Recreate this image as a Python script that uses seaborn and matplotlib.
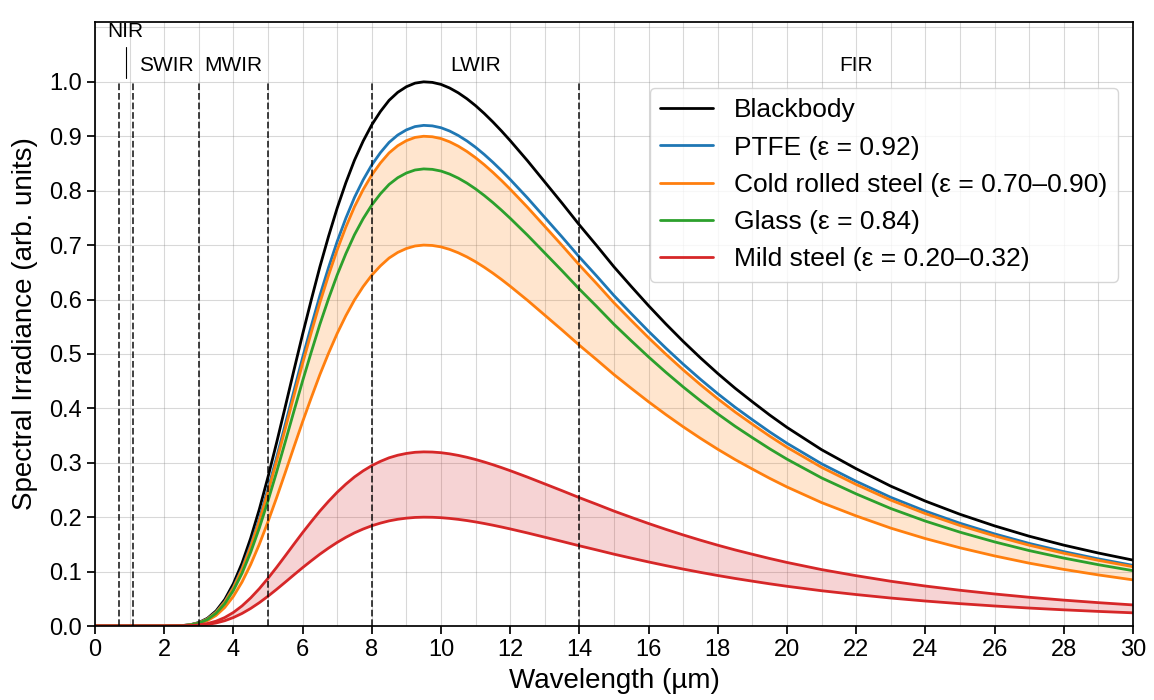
import matplotlib
matplotlib.use("Agg")
import matplotlib.pyplot as plt
import seaborn as sns
import numpy as np
from matplotlib.ticker import MultipleLocator

# wavelength (um) and normalised blackbody irradiance
wavelength = [0, 1, 2, 2.5, 2.75, 3.0, 3.25, 3.5, 3.75, 4.0, 4.25, 4.5, 4.75,
              5.0, 5.25, 5.5, 5.75, 6.0, 6.25, 6.5, 6.75, 7.0, 7.25, 7.5, 7.75,
              8.0, 8.25, 8.5, 8.75, 9.0, 9.25, 9.5, 9.75, 10.0, 10.25, 10.5,
              10.75, 11.0, 11.25, 11.5, 11.75, 12.0, 12.5, 13.0, 13.5, 14.0,
              14.5, 15.0, 15.5, 16.0, 16.5, 17.0, 17.5, 18.0, 18.5, 19.0,
              19.5, 20, 21, 22, 23, 24, 25, 26, 27, 28, 29, 30]
blackbody = [0.0, 0.0, 0.0, 0.0007, 0.0023, 0.0063, 0.0142, 0.0278, 0.0486,
             0.0778, 0.1154, 0.1614, 0.2145, 0.2737, 0.337, 0.403, 0.470,
             0.536, 0.599, 0.660, 0.716, 0.768, 0.8145, 0.856, 0.891,
             0.921, 0.9455, 0.966, 0.9807, 0.991, 0.9976, 1.000, 0.999,
             0.9953, 0.9887, 0.9798, 0.9689, 0.9562, 0.9419, 0.9263, 0.9096,
             0.892, 0.855, 0.816, 0.777, 0.737, 0.699, 0.660, 0.6239, 0.5886,
             0.555, 0.523, 0.4927, 0.464, 0.437, 0.412, 0.3877, 0.365, 0.324,
             0.289, 0.257, 0.2295, 0.2053, 0.184, 0.165, 0.1486, 0.1341,
             0.1211]

eps_ptfe = 0.92
eps_cold_rolled = (0.70, 0.90)
eps_glass = 0.84
eps_mild = (0.20, 0.32)

band_edges = [0.7, 1.1, 3, 5, 8, 14]
band_names = ["SWIR", "MWIR", "LWIR", "FIR"]
band_centers = [2.05, 4.0, 11.0, 22.0]

sns.set_theme(style="ticks")
plt.rcParams["font.family"] = ["Liberation Sans", "DejaVu Sans"]
plt.rcParams.update({"text.color": "black", "axes.labelcolor": "black",
                     "xtick.color": "black", "ytick.color": "black"})

wl = np.array(wavelength)
bb = np.array(blackbody)

fig, ax = plt.subplots(figsize=(11.54, 7), dpi=100)
fig.subplots_adjust(left=0.0823, right=0.9818, top=0.9686, bottom=0.1057)

blue, orange, green, red = "#1f77b4", "#ff7f0e", "#2ca02c", "#d62728"
lw = 2

sns.lineplot(x=wl, y=bb, color="black", lw=lw, label="Blackbody", ax=ax)
sns.lineplot(x=wl, y=eps_ptfe * bb, color=blue, lw=lw,
             label="PTFE (ε = 0.92)", ax=ax)
ax.fill_between(wl, eps_cold_rolled[0] * bb, eps_cold_rolled[1] * bb,
                color=orange, alpha=0.2, lw=0)
sns.lineplot(x=wl, y=eps_cold_rolled[1] * bb, color=orange, lw=lw,
             label="Cold rolled steel (ε = 0.70–0.90)", ax=ax)
sns.lineplot(x=wl, y=eps_cold_rolled[0] * bb, color=orange, lw=lw, ax=ax)
sns.lineplot(x=wl, y=eps_glass * bb, color=green, lw=lw,
             label="Glass (ε = 0.84)", ax=ax)
ax.fill_between(wl, eps_mild[0] * bb, eps_mild[1] * bb,
                color=red, alpha=0.2, lw=0)
sns.lineplot(x=wl, y=eps_mild[1] * bb, color=red, lw=lw,
             label="Mild steel (ε = 0.20–0.32)", ax=ax)
sns.lineplot(x=wl, y=eps_mild[0] * bb, color=red, lw=lw, ax=ax)

for e in band_edges:
    ax.plot([e, e], [0, 1.0], ls="--", color="black", lw=1.3, alpha=0.8)

ax.text(0.87, 1.093, "NIR", ha="center", va="center", fontsize=15)
ax.plot([0.9, 0.9], [1.007, 1.064], color="black", lw=0.8)
for name, c in zip(band_names, band_centers):
    ax.text(c, 1.03, name, ha="center", va="center", fontsize=15)

ax.set_xlim(0, 30)
ax.set_ylim(0, 1.11)
ax.xaxis.set_major_locator(MultipleLocator(2))
ax.xaxis.set_minor_locator(MultipleLocator(1))
ax.set_yticks(np.arange(0, 1.01, 0.1))
ax.yaxis.set_minor_locator(MultipleLocator(0.1))
ax.tick_params(axis="both", which="major", labelsize=17)
ax.tick_params(which="minor", length=0)
ax.grid(which="both", color="grey", alpha=0.3, lw=0.8)
for s in ax.spines.values():
    s.set_color("black")

ax.set_xlabel("Wavelength (µm)", fontsize=20, labelpad=5)
ax.set_ylabel("Spectral Irradiance (arb. units)", fontsize=20, labelpad=8)

ax.legend(loc="upper right", fontsize=19, bbox_to_anchor=(0.9855, 0.891),
          borderaxespad=0)

fig.savefig("out.png", dpi=100)
